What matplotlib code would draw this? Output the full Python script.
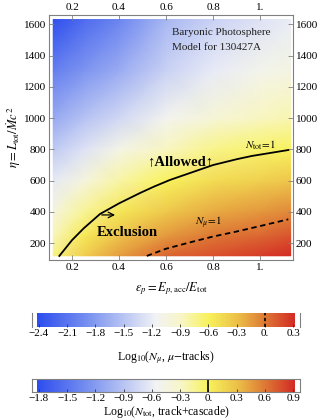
import numpy as np
import matplotlib
matplotlib.use('Agg')
import matplotlib.pyplot as plt
from matplotlib.colors import LinearSegmentedColormap

plt.rcParams['font.family'] = ['Liberation Serif', 'DejaVu Serif']
plt.rcParams['mathtext.fontset'] = 'stix'

eps_grid = [0.12, 0.25, 0.4, 0.6, 0.8, 1.0, 1.13]
eta_grid = [120, 250, 400, 600, 800, 1000, 1300, 1630]
log_ntot = [
    [-0.09, 0.22, 0.45, 0.68, 0.77, 0.85, 0.92],
    [-0.25, 0.06, 0.28, 0.47, 0.60, 0.67, 0.74],
    [-0.42, -0.16, 0.07, 0.26, 0.40, 0.48, 0.54],
    [-0.63, -0.42, -0.20, -0.01, 0.13, 0.21, 0.27],
    [-0.86, -0.68, -0.47, -0.27, -0.12, -0.04, -0.01],
    [-1.10, -0.92, -0.75, -0.52, -0.38, -0.27, -0.23],
    [-1.42, -1.25, -1.08, -0.80, -0.62, -0.50, -0.45],
    [-1.80, -1.58, -1.38, -1.00, -0.80, -0.68, -0.60],
]

# N_tot = 1 contour (solid) and N_mu = 1 contour (dashed)
ntot_eps = [0.146, 0.2, 0.25, 0.319, 0.4, 0.489, 0.55, 0.617, 0.7, 0.8, 0.9, 0.965, 1.12]
ntot_eta = [119, 220, 296, 387, 455, 521, 563, 605, 648, 700, 737, 758, 796]
nmu_eps = [0.518, 0.6, 0.7, 0.8, 0.9, 1.0, 1.12]
nmu_eta = [119, 165, 205, 243, 275, 310, 353]

# colour scale limits (log10 N_tot); N_mu is the same field shifted by 0.6
vmin, vmax = -1.82, 0.92
mu_shift = 0.6

x_ticks = [0.2, 0.4, 0.6, 0.8, 1.0]
x_ticklabels = ['0.2', '0.4', '0.6', '0.8', '1.']
y_ticks = [200, 400, 600, 800, 1000, 1200, 1400, 1600]

mu_ticks = [-2.4, -2.1, -1.8, -1.5, -1.2, -0.9, -0.6, -0.3, 0.0, 0.3]
tot_ticks = [-1.8, -1.5, -1.2, -0.9, -0.6, -0.3, 0.0, 0.3, 0.6, 0.9]

cmap = LinearSegmentedColormap.from_list('temp', [
    (0.0, '#2d4eee'),
    (0.2, '#7a92f0'),
    (0.46, '#f2f3f6'),
    (0.56, '#f8f6c6'),
    (0.665, '#f8f25c'),
    (0.78, '#ecbf48'),
    (0.88, '#de7c36'),
    (1.0, '#d42b25'),
])

frame_col = '#808080'


def fmt(v):
    if abs(v) < 1e-9:
        return '0.'
    s = f'{abs(v):.1f}'
    return ('\u2212' if v < 0 else '') + s


def style_frame(a):
    for sp in a.spines.values():
        sp.set_color(frame_col)
        sp.set_linewidth(0.8)


fig = plt.figure(figsize=(3.2, 4.2), dpi=100)

# main panel
ax = fig.add_axes([49 / 320, 1 - 260 / 420, 244 / 320, 245 / 420])
ax.pcolormesh(eps_grid, eta_grid, np.array(log_ntot), shading='gouraud',
              cmap=cmap, vmin=vmin, vmax=vmax)
ax.plot(ntot_eps, ntot_eta, color='black', lw=1.3)
ax.plot(nmu_eps, nmu_eta, color='black', lw=1.3, dashes=(3, 2))
ax.set_xlim(0.102, 1.14)
ax.set_ylim(93, 1659)
ax.set_xticks(x_ticks)
ax.set_xticklabels(x_ticklabels)
ax.set_yticks(y_ticks)
ax.tick_params(direction='in', top=True, right=True, labeltop=True,
               labelright=True, length=3.5, width=0.6, color=frame_col,
               labelsize=8, pad=2)
style_frame(ax)
ax.set_xlabel(r'$\epsilon_p = E_{p,\mathrm{acc}}/E_{\mathrm{tot}}$', fontsize=9, labelpad=6)
ax.set_ylabel(r'$\eta = L_{\mathrm{tot}}/\dot{M}c^2$', fontsize=9, labelpad=1)

# annotations
ax.text(0.626, 1550, 'Baryonic Photosphere', fontsize=8, va='center', color='#222222')
ax.text(0.626, 1454, 'Model for 130427A', fontsize=8, va='center', color='#222222')
ax.text(0.66, 719, '\u2191Allowed\u2191', fontsize=10.5, fontweight='bold',
        ha='center', va='center')
ax.text(0.436, 266, 'Exclusion', fontsize=10.5, fontweight='bold',
        ha='center', va='center')
ax.annotate('', xy=(0.395, 381), xytext=(0.315, 381),
            arrowprops=dict(arrowstyle='->', lw=0.9, color='black'))
ax.text(1.0, 825, r'$N_{\mathrm{tot}}\!=\!1$', fontsize=8, ha='center', va='center')
ax.text(0.78, 330, r'$N_{\mu}\!=\!1$', fontsize=8, ha='center', va='center')

# colour bars
grad = np.linspace(vmin, vmax, 256).reshape(1, -1)


def colour_bar(rect, shift, ticks, label, line_style, pad):
    cax = fig.add_axes(rect)
    lo, hi = vmin - shift, vmax - shift
    cax.imshow(grad, extent=[lo, hi, 0, 1], aspect='auto', cmap=cmap,
               vmin=vmin, vmax=vmax)
    cax.set_xlim(lo - 0.054, hi + 0.054)
    cax.set_ylim(0, 1)
    cax.axvline(0.0, color='black', lw=1.2, ls=line_style)
    cax.set_yticks([])
    cax.set_xticks(ticks)
    cax.set_xticklabels([fmt(t) for t in ticks])
    cax.tick_params(direction='in', length=2, width=0.6, color='#333333',
                    labelsize=8, pad=1.5)
    style_frame(cax)
    cax.set_xlabel(label, fontsize=8.5, labelpad=pad)
    return cax


cb1 = colour_bar([32 / 320, 1 - 327 / 420, 268 / 320, 14 / 420], mu_shift, mu_ticks,
                 r'Log$_{10}$($N_\mu$, $\mu$$-$tracks)', (0, (2, 1.5)), 8)
cb1.spines['top'].set_visible(False)
cb1.spines['bottom'].set_visible(False)
colour_bar([32 / 320, 1 - 392 / 420, 268 / 320, 13 / 420], 0.0, tot_ticks,
           r'Log$_{10}$($N_{\mathrm{tot}}$, track+cascade)', '-', 1)

fig.savefig('out.png', dpi=100)
